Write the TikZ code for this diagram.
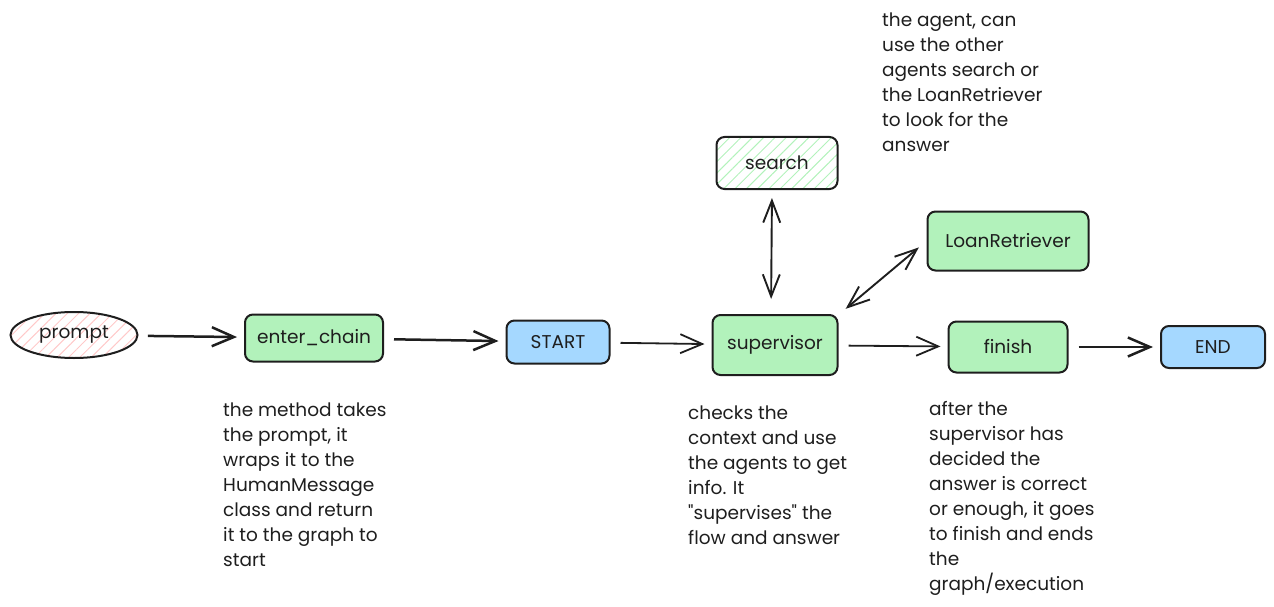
\documentclass[tikz,border=0pt]{standalone}
\usepackage{fontspec}
\setmainfont{Poppins}
\usetikzlibrary{arrows.meta,patterns.meta,shapes.geometric}
\definecolor{gfill}{HTML}{B2F2BB}
\definecolor{bfill}{HTML}{A5D8FF}
\definecolor{rhatch}{HTML}{FFC9C9}
\definecolor{ghatch}{HTML}{B2F2BB}
\definecolor{ink}{HTML}{1E1E1E}
\newcommand\dfont{\fontsize{18.5}{25}\selectfont}
\newcommand\sq{\XeTeXglyph\XeTeXcharglyph"22\relax}
\begin{document}
\begin{tikzpicture}[x=1pt,y=-1pt,
  box/.style={draw=ink,line width=2pt,rounded corners=8pt,font=\dfont,text=ink,inner sep=0pt},
  gbox/.style={box,fill=gfill},
  bbox/.style={box,fill=bfill},
  hbox/.style={box,pattern={Lines[angle=45,distance=8pt,line width=1pt]},pattern color=#1},
  arr/.style={draw=ink,line width=2.5pt,-{Straight Barb[length=22pt,width=19pt]},shorten <=10pt,shorten >=7pt},
  darr/.style={draw=ink,line width=1.9pt,{Straight Barb[length=22pt,width=17pt]}-{Straight Barb[length=22pt,width=17pt]}},
  note/.style={font=\dfont,text=ink,align=left,anchor=north west,inner sep=0pt}]
\useasboundingbox (0,0) rectangle (1274,607);

\node[ellipse,draw=ink,line width=2pt,font=\dfont,text=ink,inner sep=0pt,
      minimum width=127pt,minimum height=46pt,
      pattern={Lines[angle=45,distance=8pt,line width=1pt]},pattern color=rhatch] (prompt) at (74,335) {prompt};
\node[gbox,minimum width=138pt,minimum height=47pt] (enter) at (314,338) {enter\_chain};
\node[bbox,minimum width=103pt,minimum height=43pt] (start) at (558,342) {START};
\node[gbox,minimum width=125pt,minimum height=60pt] (sup) at (775,345) {supervisor};
\node[hbox=ghatch,minimum width=121pt,minimum height=52pt] (search) at (777,163) {search};
\node[gbox,minimum width=161pt,minimum height=59pt] (loan) at (1008,241) {LoanRetriever};
\node[gbox,minimum width=119pt,minimum height=51pt] (finish) at (1008,347) {finish};
\node[bbox,minimum width=104pt,minimum height=42pt] (end) at (1213,347) {END};

\draw[arr] (prompt) -- (enter);
\draw[arr] (enter) -- (start);
\draw[arr,line width=1.8pt] (start) -- (sup);
\draw[arr,line width=1.8pt] (sup) -- (finish);
\draw[arr] (finish) -- (end);
\draw[darr,shorten <=8pt,shorten >=15pt] ([xshift=-5pt]search.south) -- ([xshift=-4pt]sup.north);
\draw[darr,shorten <=10pt,shorten >=8pt] (loan.west) -- ([xshift=1pt]sup.north east);

\node[note] (n1) at (223,403) {the method takes\\the prompt, it\\wraps it to the\\HumanMessage\\class and return\\it to the graph to\\start};
\node[note] (n2) at (688,406) {checks the\\context and use\\the agents to get\\info. It\\\sq supervises\sq{} the\\flow and answer};
\node[note] (n3) at (882,13) {the agent, can\\use the other\\agents search or\\the LoanRetriever\\to look for the\\answer};
\node[note] (n4) at (929,401) {after the\\supervisor has\\decided the\\answer is correct\\or enough, it goes\\to finish and ends\\the\\graph/execution};
\end{tikzpicture}
\end{document}
